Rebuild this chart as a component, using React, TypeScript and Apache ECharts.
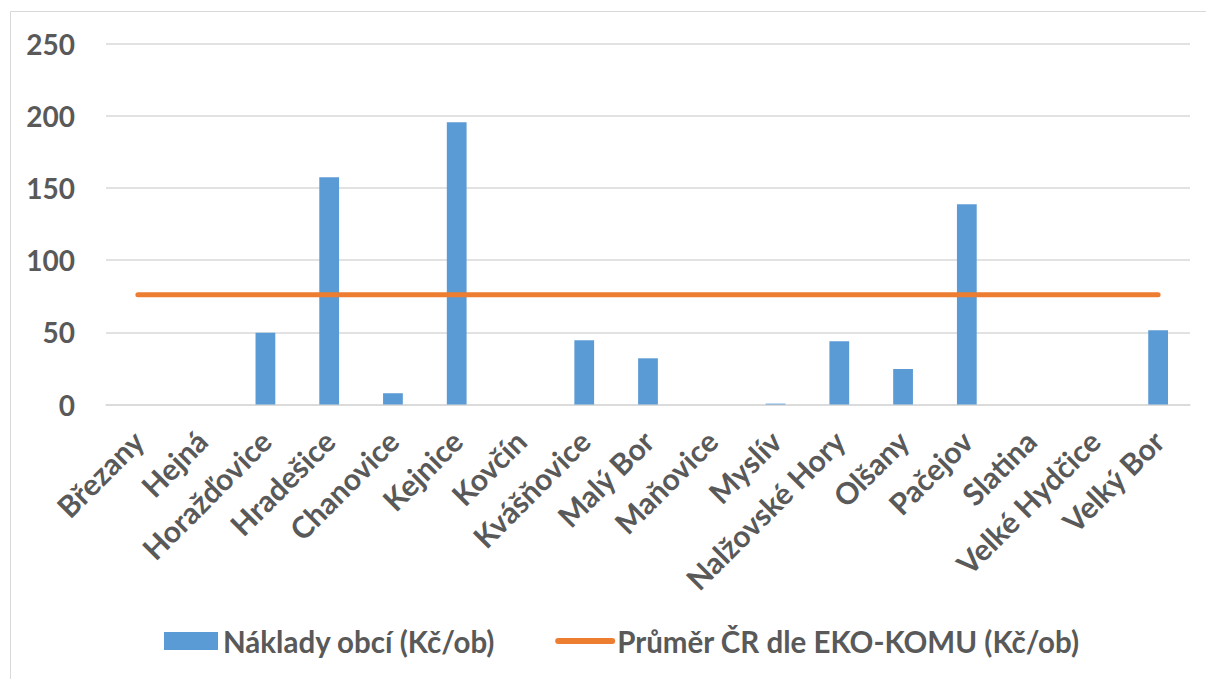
import React, { useEffect, useRef } from "react";
import * as echarts from "echarts";

const categories = [
  "Březany", "Hejná", "Horažďovice", "Hradešice", "Chanovice", "Kejnice", "Kovčín",
  "Kvášňovice", "Malý Bor", "Maňovice", "Myslív", "Nalžovské Hory", "Olšany",
  "Pačejov", "Slatina", "Velké Hydčice", "Velký Bor",
];
const nakladyObci = [0, 0, 49.7, 157.3, 7.8, 195.4, 0, 44.5, 32, 0, 0.6, 43.8, 24.6, 138.6, 0, 0, 51.4];
const prumerCR = [76, 76, 76, 76, 76, 76, 76, 76, 76, 76, 76, 76, 76, 76, 76, 76, 76];
const yTicks = { min: 0, max: 250, interval: 50 };
const seriesNames = ["Náklady obcí (Kč/ob)", "Průměr ČR dle EKO-KOMU (Kč/ob)"];

const FONT = "Lato, 'Noto Sans', sans-serif";
const TEXT = "#595959";

export default function App() {
  const ref = useRef<HTMLDivElement>(null);
  useEffect(() => {
    document.body.style.margin = "0";
    const chart = echarts.init(ref.current!, undefined, { renderer: "svg" });
    chart.setOption({
      animation: false,
      backgroundColor: "#ffffff",
      textStyle: { fontFamily: FONT },
      graphic: [
        {
          type: "rect",
          shape: { x: 10.5, y: 11.5, width: 1210, height: 700 },
          style: { fill: "none", stroke: "#D9D9D9", lineWidth: 1 },
          silent: true,
          z: -1,
        },
      ],
      grid: { left: 106, right: 16, top: 43.5, bottom: 274.5, containLabel: false },
      legend: {
        left: 159,
        top: 621,
        itemWidth: 54,
        itemHeight: 18,
        itemGap: 60,
        textStyle: { color: TEXT, fontSize: 29.5, fontWeight: "bold", fontFamily: FONT },
        data: [
          { name: seriesNames[0], icon: "rect" },
          {
            name: seriesNames[1],
            itemStyle: { color: "rgba(0,0,0,0)", borderColor: "rgba(0,0,0,0)", borderWidth: 0 },
            lineStyle: { color: "#ED7D31", width: 6, cap: "round" },
          },
        ],
      },
      xAxis: {
        type: "category",
        data: categories,
        axisLine: { show: true, lineStyle: { color: "#D9D9D9", width: 1.5 } },
        axisTick: { show: false },
        axisLabel: {
          interval: 0,
          rotate: 45,
          margin: 31,
          color: TEXT,
          fontSize: 30,
          fontWeight: "bold",
          fontFamily: FONT,
        },
      },
      yAxis: {
        type: "value",
        min: yTicks.min,
        max: yTicks.max,
        interval: yTicks.interval,
        axisLine: { show: false },
        axisTick: { show: false },
        splitLine: { lineStyle: { color: "#D9D9D9", width: 1.5 } },
        axisLabel: {
          margin: 31,
          color: TEXT,
          fontSize: 28,
          fontWeight: "bold",
          fontFamily: FONT,
        },
      },
      series: [
        {
          name: seriesNames[0],
          type: "bar",
          data: nakladyObci,
          barWidth: "31%",
          itemStyle: { color: "#5B9BD5" },
        },
        {
          name: seriesNames[1],
          type: "line",
          data: prumerCR,
          symbol: "none",
          lineStyle: { color: "#ED7D31", width: 5, cap: "round" },
          itemStyle: { color: "#ED7D31" },
        },
      ],
    });
    return () => chart.dispose();
  }, []);
  return <div ref={ref} style={{ width: 1206, height: 679 }} />;
}
